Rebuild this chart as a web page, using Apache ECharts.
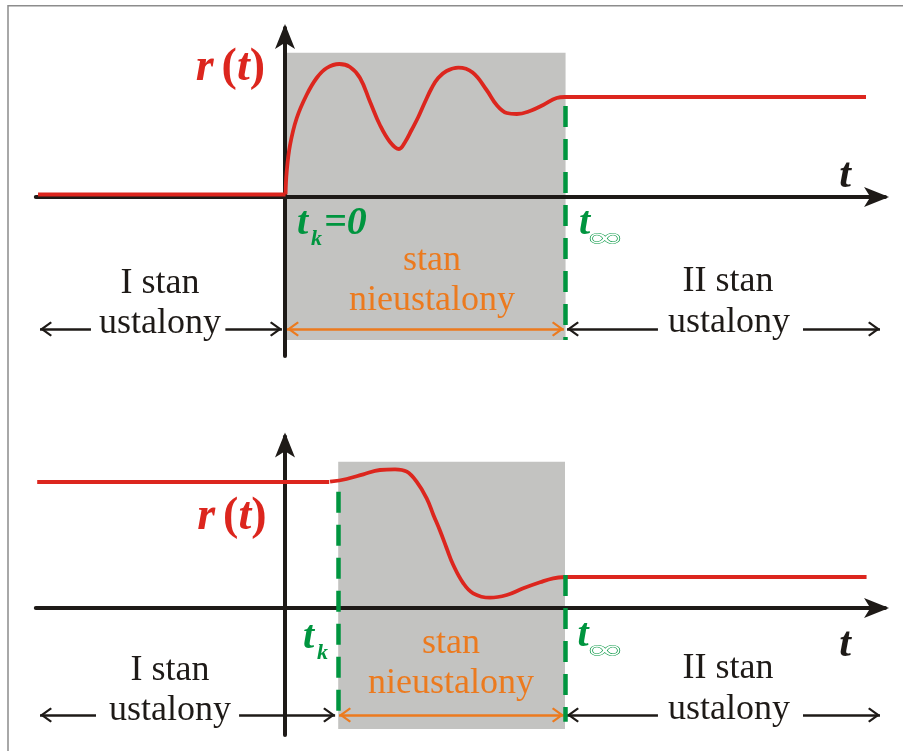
<!DOCTYPE html>
<html><head><meta charset="utf-8">
<script src="https://cdn.jsdelivr.net/npm/echarts@6/dist/echarts.min.js"></script>
<style>html,body{margin:0;padding:0;background:#fff}#c{width:903px;height:751px}</style>
</head><body><div id="c"></div>
<script>
// ---------- DATA (t: time units, t_inf = 10 ; r: response units) ----------
const xRange = [-8.9, 21.43];
const topYRange = [-1.59, 1.69];
const botYRange = [-1.27, 1.715];

// upper diagram: step at t_k = 0, oscillating transient, new steady level
const topBefore = [[-8.82, 0.025], [0.02, 0.025]];
const topTransient = [[0.02, 0.025], [0.06, 0.25], [0.18, 0.52], [0.42, 0.79], [0.77, 1.02], [1.13, 1.19],
  [1.49, 1.29], [1.94, 1.33], [2.32, 1.30], [2.68, 1.19], [3.04, 0.95], [3.39, 0.72], [3.75, 0.55],
  [4.07, 0.48], [4.29, 0.55], [4.52, 0.67], [4.76, 0.80], [5.0, 0.95], [5.24, 1.09], [5.47, 1.19],
  [5.77, 1.26], [6.19, 1.293], [6.70, 1.245], [7.20, 1.07], [7.56, 0.92], [7.92, 0.84], [8.28, 0.83],
  [8.75, 0.86], [9.22, 0.92], [9.70, 0.99], [10.0, 1.0]];
const topAfter = [[10.0, 1.0], [20.75, 1.0]];
const topShade = [[0.06, 1.443], [10.02, -1.43]];
const topMarkers = [[10, 0.91, -1.43]];           // t, r from, r to (dashed)
const topArrowLevel = -1.32;
const topArrowsBlack = [[-6.93, -8.75], [-2.13, -0.11], [13.32, 10.07], [18.5, 21.25]];
const topArrowsOrange = [[0.07, 9.96]];

// lower diagram: switching at t_k > 0, decaying transient
const botBefore = [[-8.85, 1.26], [1.58, 1.26]];
const botTransient = [[1.61, 1.263], [2.20, 1.29], [2.80, 1.337], [3.39, 1.38], [3.93, 1.387], [4.35, 1.363],
  [4.70, 1.263], [5.06, 1.097], [5.30, 0.93], [5.54, 0.77], [5.77, 0.60], [6.01, 0.43], [6.37, 0.247],
  [6.72, 0.147], [7.32, 0.103], [7.92, 0.13], [8.51, 0.197], [9.11, 0.257], [9.58, 0.297], [10.0, 0.31]];
const botAfter = [[10.0, 0.31], [20.77, 0.31]];
const botShade = [[1.9, 1.463], [10.0, -1.21]];
const botMarkers = [[1.9, 1.163, -1.137], [10, 0.33, -1.137]];
const botArrowLevel = -1.07;
const botArrowsBlack = [[-6.75, -8.75], [-1.64, 1.79], [13.32, 10.07], [18.5, 21.25]];
const botArrowsOrange = [[1.93, 9.96]];

// texts
const txtRParts = ['r', '(', 't', ')'];
const txtT = 't';
const txtSub = 'k';
const txtZero = '=0';
const txtInf = '∞';
const txtState1 = ['I stan', 'ustalony'];
const txtState2 = ['II stan', 'ustalony'];
const txtTransient = ['stan', 'nieustalony'];

// ---------- STYLE ----------
const RED = '#dc261e', GREEN = '#00953f', ORANGE = '#ec7a1e', BLACK = '#1e1a17', SHADE = '#c3c3c1';
const SERIF = '"Liberation Serif", "Times New Roman", serif';
const CHEVRON = 'path://M15,-24L15.02,-24L15,-23.98Z M15,0L30,21L27,24L15,7.5L3,24L0,21Z';

const chart = echarts.init(document.getElementById('c'));

function axisCommon() {
  return { type: 'value', z: 2,
    axisLine: { show: true, onZero: true, symbol: ['none', 'arrow'], symbolSize: [15, 25], symbolOffset: [0, 4],
      lineStyle: { color: BLACK, width: 4 } },
    axisTick: { show: false }, axisLabel: { show: false }, splitLine: { show: false } };
}
function xAxis(gi) { return Object.assign(axisCommon(), { gridIndex: gi, min: xRange[0], max: xRange[1] }); }
function yAxis(gi, range) { return Object.assign(axisCommon(), { gridIndex: gi, min: range[0], max: range[1] }); }

function arrowLines(spans, level, both) {
  return spans.map(s => [
    { coord: [s[0], level], symbol: both ? CHEVRON : 'none', symbolSize: [15, 24] },
    { coord: [s[1], level], symbol: CHEVRON, symbolSize: [15, 24] }
  ]);
}
function panelSeries(gi, before, transient, after, shade, markers, lvl, blackArr, orangeArr) {
  const base = { type: 'line', xAxisIndex: gi, yAxisIndex: gi, showSymbol: false, symbol: 'none', silent: true,
    z: 3, lineStyle: { color: RED, width: 3.8 }, animation: false };
  return [
    Object.assign({}, base, { data: before,
      markLine: { silent: true, animation: false, label: { show: false }, lineStyle: { color: BLACK, width: 2.5, type: 'solid' },
        emphasis: { disabled: true }, data: arrowLines(blackArr, lvl, false) } }),
    Object.assign({}, base, { data: transient, smooth: 0.4,
      markArea: { silent: true, z: 1, itemStyle: { color: SHADE, opacity: 1 }, label: { show: false },
        data: [[{ coord: shade[0] }, { coord: shade[1] }]] },
      markLine: { silent: true, animation: false, label: { show: false }, lineStyle: { color: ORANGE, width: 2.5, type: 'solid' },
        emphasis: { disabled: true }, data: arrowLines(orangeArr, lvl, true) } }),
    Object.assign({}, base, { data: after,
      markLine: { silent: true, animation: false, symbol: ['none', 'none'], label: { show: false },
        lineStyle: { color: GREEN, width: 4.5, type: [21, 12] }, emphasis: { disabled: true },
        data: markers.map(m => [{ coord: [m[0], m[1]] }, { coord: [m[0], m[2]] }]) } })
  ];
}

function fontStr(size, bold, italic) {
  return (italic ? 'italic ' : '') + (bold ? 'bold ' : '') + size + 'px ' + SERIF;
}
function txt(text, x, baseline, size, fill, opts) {
  opts = opts || {};
  const al = opts.align || 'center';
  return { type: 'text', x: x, y: baseline - 0.32 * size, z: 100, silent: true,
    style: { text: text, font: fontStr(size, opts.bold, opts.italic), fill: fill,
      align: al, textAlign: al, verticalAlign: 'middle', textVerticalAlign: 'middle' } };
}
function rLabel(x, baseline) {
  const S = 46;
  const p = txtRParts;
  return { type: 'text', x: x, y: baseline - 0.32 * S, z: 100, silent: true,
    style: { text: '{i|' + p[0] + '}{s| }{p|' + p[1] + '}{i|' + p[2] + '}{p|' + p[3] + '}',
      font: fontStr(S, true, false), fill: RED, align: 'right', textAlign: 'right',
      verticalAlign: 'middle', textVerticalAlign: 'middle',
      rich: {
        i: { font: fontStr(S, true, true), fill: RED, fontSize: S, fontWeight: 'bold', fontStyle: 'italic', fontFamily: SERIF, color: RED },
        p: { font: fontStr(S, true, false), fill: RED, fontSize: S, fontWeight: 'bold', fontFamily: SERIF, color: RED },
        s: { font: fontStr(32, false, false), fontSize: 32, fontFamily: SERIF }
      } } };
}
function infLabel(cx, cy) {
  return { type: 'text', x: cx, y: cy, scaleY: 0.6, originX: 0, originY: 0, z: 100, silent: true,
    style: { text: txtInf, font: fontStr(44, true, false), fill: '#ffffff', stroke: GREEN, lineWidth: 1.6,
      align: 'center', textAlign: 'center', verticalAlign: 'middle', textVerticalAlign: 'middle' } };
}
const BI = { bold: true, italic: true };
const BIL = { bold: true, italic: true, align: 'left' };
function panelTexts(o) {
  return [
    rLabel(o.rX, o.rB),
    txt(txtT, 845, o.tB, 42, BLACK, BI),
    txt(txtT, o.tkX, o.tkB, 40, GREEN, BIL),
    txt(txtSub, o.tkX + 14, o.tkB + 10, 22, GREEN, BIL),
    o.zero ? txt(txtZero, o.tkX + 27, o.tkB, 40, GREEN, BIL) : null,
    txt(txtT, o.tiX, o.tiB, 40, GREEN, BIL),
    infLabel(605, o.tiB + 2.5),
    txt(txtTransient[0], o.trX, o.trB, 36, ORANGE),
    txt(txtTransient[1], o.trX, o.trB + 40, 36, ORANGE),
    txt(txtState1[0], o.s1X, o.s1B, 36, BLACK),
    txt(txtState1[1], o.s1X, o.s1B + 40, 36, BLACK),
    txt(txtState2[0], 728, o.s2B, 36, BLACK),
    txt(txtState2[1], 729, o.s2B + 41, 36, BLACK)
  ].filter(Boolean);
}

const graphics = [
  { type: 'polyline', z: 100, silent: true, shape: { points: [[8, 751], [8, 5.7], [903, 5.7]] },
    style: { stroke: '#8c8c8c', lineWidth: 1.5, fill: null } }
].concat(panelTexts({ rX: 265, rB: 83, tB: 190, tkX: 297, tkB: 236.7, zero: true, tiX: 579, tiB: 236.7,
  trX: 432, trB: 271.7, s1X: 160, s1B: 295, s2B: 293.5 }))
 .concat(panelTexts({ rX: 266.5, rB: 532, tB: 658.3, tkX: 303, tkB: 650, zero: false, tiX: 577.5, tiB: 648.3,
  trX: 451, trB: 655.5, s1X: 170, s1B: 681.7, s2B: 680 }));

chart.setOption({
  animation: false,
  backgroundColor: '#ffffff',
  grid: [
    { left: 35.8, width: 849.24, top: 28, height: 328 },
    { left: 35.8, width: 849.24, top: 436.5, height: 298.5 }
  ],
  xAxis: [xAxis(0), xAxis(1)],
  yAxis: [yAxis(0, topYRange), yAxis(1, botYRange)],
  series: panelSeries(0, topBefore, topTransient, topAfter, topShade, topMarkers, topArrowLevel, topArrowsBlack, topArrowsOrange)
    .concat(panelSeries(1, botBefore, botTransient, botAfter, botShade, botMarkers, botArrowLevel, botArrowsBlack, botArrowsOrange)),
  graphic: graphics
});
</script></body></html>
